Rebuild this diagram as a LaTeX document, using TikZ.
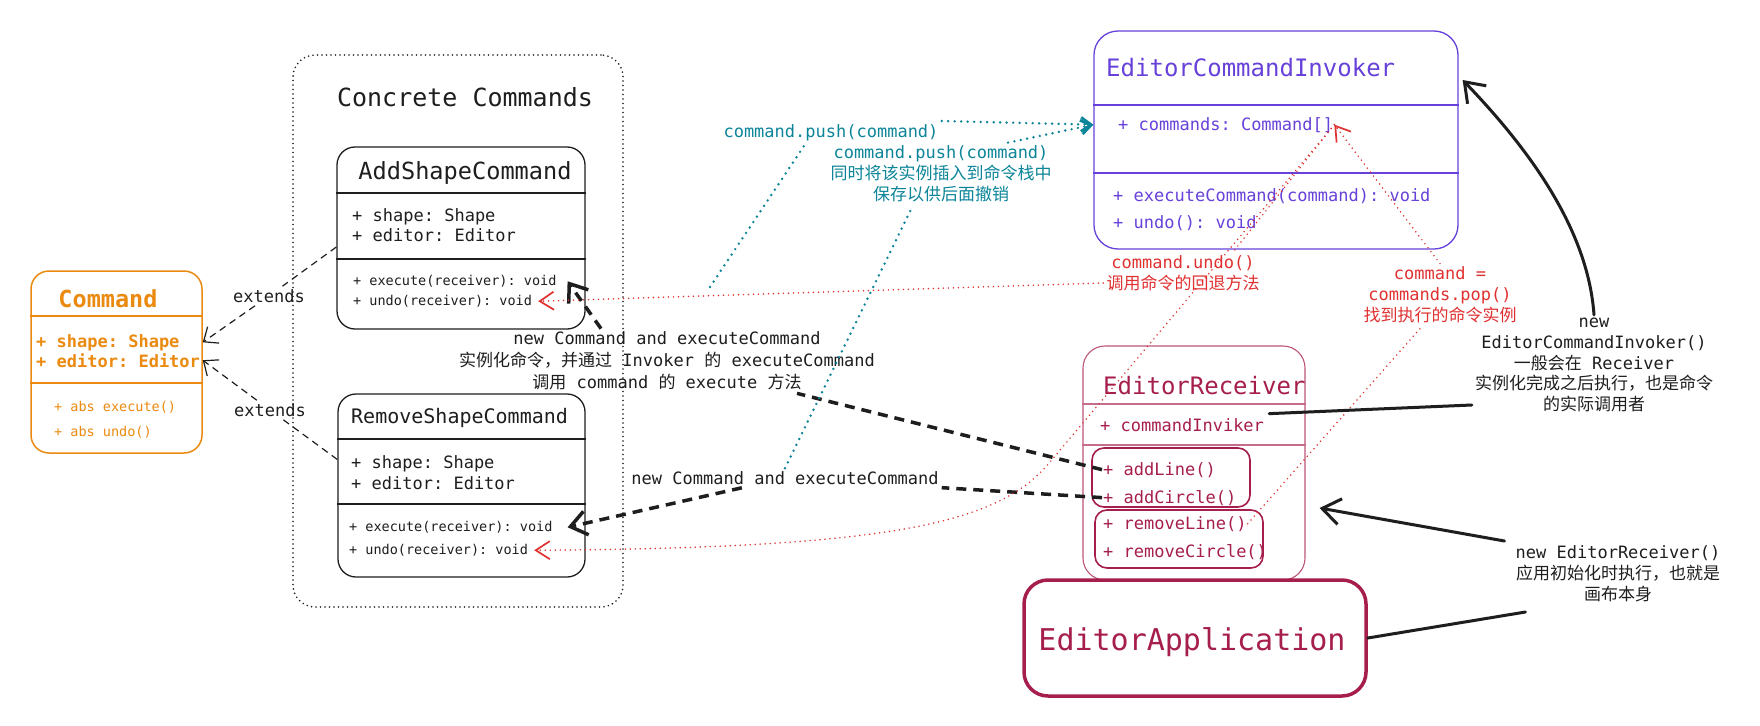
\documentclass[tikz,border=0pt]{standalone}
\usepackage{fontspec}
\setmonofont{DejaVu Sans Mono}
\newfontfamily\cjk{Noto Sans CJK SC}
\usepackage{tikz}
\usetikzlibrary{arrows.meta, positioning, calc}
\definecolor{cmdorange}{HTML}{EB8A10}
\definecolor{invviolet}{HTML}{6741D9}
\definecolor{recvcrimson}{HTML}{A61E4D}
\definecolor{undored}{HTML}{E03131}
\definecolor{pushteal}{HTML}{0C8599}
\definecolor{inkblack}{HTML}{1E1E1E}
\newcommand{\zh}[1]{{\cjk #1}}

\begin{document}
\begin{tikzpicture}[
    x=1pt, y=-1pt,
    box/.style={rectangle, rounded corners=18pt, draw, line width=1.3pt, inner sep=0pt},
    sep/.style={line width=1.6pt},
    title/.style={anchor=base west, inner sep=1pt, font=\fontsize{24}{28}\selectfont\ttfamily},
    row/.style={anchor=base west, inner sep=1pt, font=\fontsize{17}{21}\selectfont\ttfamily},
    smallrow/.style={anchor=base west, inner sep=1pt, font=\fontsize{13.5}{17}\selectfont\ttfamily},
    note/.style={align=center, inner sep=3pt, font=\fontsize{17}{21}\selectfont\ttfamily},
    extline/.style={draw=inkblack, line width=1.2pt, dash pattern=on 7pt off 5pt, >={Straight Barb[length=12pt,width=20pt]}},
    calldash/.style={draw=inkblack, line width=3.5pt, dash pattern=on 10pt off 7pt, >={Straight Barb[length=16pt,width=24pt]}},
    callline/.style={draw=inkblack, line width=3pt, line cap=round, >={Straight Barb[length=18pt,width=26pt]}},
    reddot/.style={draw=undored, line width=1.7pt, line cap=round, dash pattern=on 0pt off 5pt, >={Straight Barb[length=14pt,width=18pt]}},
    tealdot/.style={draw=pushteal, line width=2.7pt, line cap=round, dash pattern=on 0pt off 6.5pt, >={Straight Barb[length=10pt,width=14pt]}}
]
\path[fill=white, use as bounding box] (0,0) rectangle (1760,725);

% Command (abstract)
\node[box, draw=cmdorange, line width=1.5pt, minimum width=171pt, minimum height=182pt] (cmd) at (116.5,362) {};
\draw[sep, cmdorange] (cmd.west |- 0,316) -- (cmd.east |- 0,316);
\draw[sep, cmdorange] (cmd.west |- 0,383) -- (cmd.east |- 0,383);
\node[title, anchor=base, font=\fontsize{23.5}{28}\selectfont\ttfamily\bfseries, text=cmdorange] (cmdTitle) at (108,307) {Command};
\node[row, font=\fontsize{17}{21}\selectfont\ttfamily\bfseries, text=cmdorange] (cmdShape) at (35,347) {+ shape: Shape};
\node[row, font=\fontsize{17}{21}\selectfont\ttfamily\bfseries, text=cmdorange] (cmdEditor) at (35,367) {+ editor: Editor};
\node[smallrow, text=cmdorange] (cmdExec) at (53,411.5) {+ abs execute()};
\node[smallrow, text=cmdorange] (cmdUndo) at (53,436.5) {+ abs undo()};

% Concrete commands
\node[title, anchor=base, font=\fontsize{25}{30}\selectfont\ttfamily, text=inkblack] (concTitle) at (465,106) {Concrete Commands};

\node[box, draw=inkblack, minimum width=248pt, minimum height=182pt] (as) at (461,238) {};
\draw[sep, inkblack] (as.west |- 0,193) -- (as.east |- 0,193);
\draw[sep, inkblack] (as.west |- 0,259) -- (as.east |- 0,259);
\node[title, anchor=base, font=\fontsize{23.6}{28}\selectfont\ttfamily, text=inkblack] (asTitle) at (465,179) {AddShapeCommand};
\node[row, text=inkblack] (asShape) at (351,221) {+ shape: Shape};
\node[row, text=inkblack] (asEditor) at (351,241) {+ editor: Editor};
\node[smallrow, text=inkblack] (asExec) at (352,285.5) {+ execute(receiver): void};
\node[smallrow, text=inkblack] (asUndo) at (352,305.5) {+ undo(receiver): void};

\node[box, draw=inkblack, minimum width=247pt, minimum height=183pt] (rs) at (461.5,485.5) {};
\draw[sep, inkblack] (rs.west |- 0,439) -- (rs.east |- 0,439);
\draw[sep, inkblack] (rs.west |- 0,504) -- (rs.east |- 0,504);
\node[title, font=\fontsize{20}{24}\selectfont\ttfamily, text=inkblack] (rsTitle) at (350,423.5) {RemoveShapeCommand};
\node[row, text=inkblack] (rsShape) at (350,468) {+ shape: Shape};
\node[row, text=inkblack] (rsEditor) at (350,489) {+ editor: Editor};
\node[smallrow, text=inkblack] (rsExec) at (348,531.5) {+ execute(receiver): void};
\node[smallrow, text=inkblack] (rsUndo) at (348,554.5) {+ undo(receiver): void};

% Invoker
\node[box, draw=invviolet, rounded corners=24pt, minimum width=364pt, minimum height=218pt] (inv) at (1276,140) {};
\draw[sep, invviolet] (inv.west |- 0,105) -- (inv.east |- 0,105);
\draw[sep, invviolet] (inv.west |- 0,173) -- (inv.east |- 0,173);
\node[title, text=invviolet] (invTitle) at (1105,76) {EditorCommandInvoker};
\node[row, text=invviolet] (invCmds) at (1117,130) {+ commands: Command[]};
\node[row, text=invviolet] (invExec) at (1112,201) {+ executeCommand(command): void};
\node[row, text=invviolet] (invUndo) at (1112,228) {+ undo(): void};

% Receiver
\node[box, draw=recvcrimson!75, line width=1.1pt, rounded corners=22pt, minimum width=222pt, minimum height=234pt] (recv) at (1194,463) {};
\draw[sep, recvcrimson!65] (recv.west |- 0,404) -- (recv.east |- 0,404);
\draw[sep, recvcrimson!65] (recv.west |- 0,445) -- (recv.east |- 0,445);
\node[title, text=recvcrimson] (recvTitle) at (1102,394) {EditorReceiver};
\node[row, text=recvcrimson] (recvInv) at (1099,431) {+ commandInviker};
\node[box, draw=recvcrimson, line width=1.6pt, rounded corners=12pt, minimum width=158pt, minimum height=59pt] (addBox) at (1171,477.5) {};
\node[row, text=recvcrimson] (addLine) at (1102,475) {+ addLine()};
\node[row, text=recvcrimson] (addCircle) at (1102,503) {+ addCircle()};
\node[box, draw=recvcrimson, line width=1.6pt, rounded corners=12pt, minimum width=168pt, minimum height=58pt] (remBox) at (1179,539) {};
\node[row, text=recvcrimson] (remLine) at (1102,529) {+ removeLine()};
\node[row, text=recvcrimson] (remCircle) at (1102,557) {+ removeCircle()};

% Application
\node[box, draw=recvcrimson, line width=3.5pt, rounded corners=24pt, minimum width=342pt, minimum height=116pt] (app) at (1195,638) {};
\node[title, anchor=base, font=\fontsize{30}{34}\selectfont\ttfamily, text=recvcrimson] (appTitle) at (1192,650) {EditorApplication};

% Notes
\node[note, text=inkblack, font=\fontsize{17}{22}\selectfont\ttfamily] (callLbl) at (667,361) {new Command and executeCommand\\\zh{实例化命令，并通过} Invoker \zh{的} executeCommand\\\zh{调用} command \zh{的} execute \zh{方法}};
\node[note, text=inkblack] (callLbl2) at (785,478) {new Command and executeCommand};
\node[note, text=pushteal] (pushLbl) at (831,133) {command.push(command)};
\node[note, text=pushteal] (pushLbl2) at (941,174) {command.push(command)\\\zh{同时将该实例插入到命令栈中}\\\zh{保存以供后面撤销}};
\node[note, text=undored] (undoLbl) at (1183,273) {command.undo()\\\zh{调用命令的回退方法}};
\node[note, text=undored] (popLbl) at (1440,295) {command =\\commands.pop()\\\zh{找到执行的命令实例}};
\node[note, text=inkblack, font=\fontsize{17}{20.7}\selectfont\ttfamily] (invLbl) at (1594,365) {new\\EditorCommandInvoker()\\\zh{一般会在} Receiver\\\zh{实例化完成之后执行，也是命令}\\\zh{的实际调用者}};
\node[note, text=inkblack] (recvLbl) at (1618,574) {new EditorReceiver()\\\zh{应用初始化时执行，也就是}\\\zh{画布本身}};

% Extends
\node[note, text=inkblack] (ext1) at (269,296) {extends};
\node[note, text=inkblack] (ext2) at (270,410) {extends};
\draw[extline] ([yshift=-9pt]as.west) -- (ext1);
\draw[extline, ->] (ext1) -- (cmdShape -| cmd.east);
\draw[extline] ([yshift=26pt]rs.west) -- (ext2);
\draw[extline, ->] (ext2) -- (cmdEditor -| cmd.east);

% Calls from the receiver
\draw[calldash] (addLine.west) -- ([xshift=130pt]callLbl.south);
\draw[calldash, ->] ([xshift=-66pt]callLbl.north) -- ([xshift=10pt]asExec.east);
\draw[calldash] (addCircle.west) -- (callLbl2);
\draw[calldash, ->] (callLbl2) -- ([xshift=14pt]rsExec.east);

% Push into the stack
\coordinate (pushFrom) at (710,287);
\draw[tealdot] (pushFrom) -- ([xshift=-26pt]pushLbl.south);
\draw[tealdot, ->] ([yshift=12pt]pushLbl.east) -- (invCmds.west -| inv.west);
\draw[tealdot] (callLbl2.north) -- ([xshift=-28pt]pushLbl2.south);
\draw[tealdot, ->] ([xshift=67pt]pushLbl2.north) -- (invCmds.west -| inv.west);

% Undo
\draw[reddot] (invCmds.east) -- ([xshift=50pt]undoLbl.north);
\draw[reddot, ->] ([yshift=-10pt]undoLbl.west) -- ([xshift=5pt]asUndo.east);
\coordinate (undoBend) at (1050,462);
\draw[reddot, ->] (invCmds.east) -- (undoBend) .. controls (1000,522) and (900,548) .. ([xshift=5pt]rsUndo.east);
\draw[reddot] (remLine.east) -- ([xshift=-18pt]popLbl.south);
\draw[reddot, ->] (popLbl.north) -- (invCmds.east);

% Creation
\draw[callline] ([shift={(4pt,11pt)}]recvInv.east) -- ([yshift=-40pt]invLbl.west);
\draw[callline, ->] (invLbl.north) .. controls (1588,230) and (1530,150) .. ([shift={(4pt,60pt)}]inv.east);
\draw[callline] (app.east) -- ([shift={(13pt,-38pt)}]recvLbl.west);
\draw[callline, ->] ([shift={(-8pt,33pt)}]recvLbl.west) -- ([shift={(14pt,-45pt)}]recv.east);

% Concrete commands frame
\node[box, draw=inkblack, line width=1.8pt, dash pattern=on 0pt off 4.5pt, line cap=round, rounded corners=22pt, minimum width=330pt, minimum height=552pt] (concrete) at (458,331) {};

\end{tikzpicture}
\end{document}
